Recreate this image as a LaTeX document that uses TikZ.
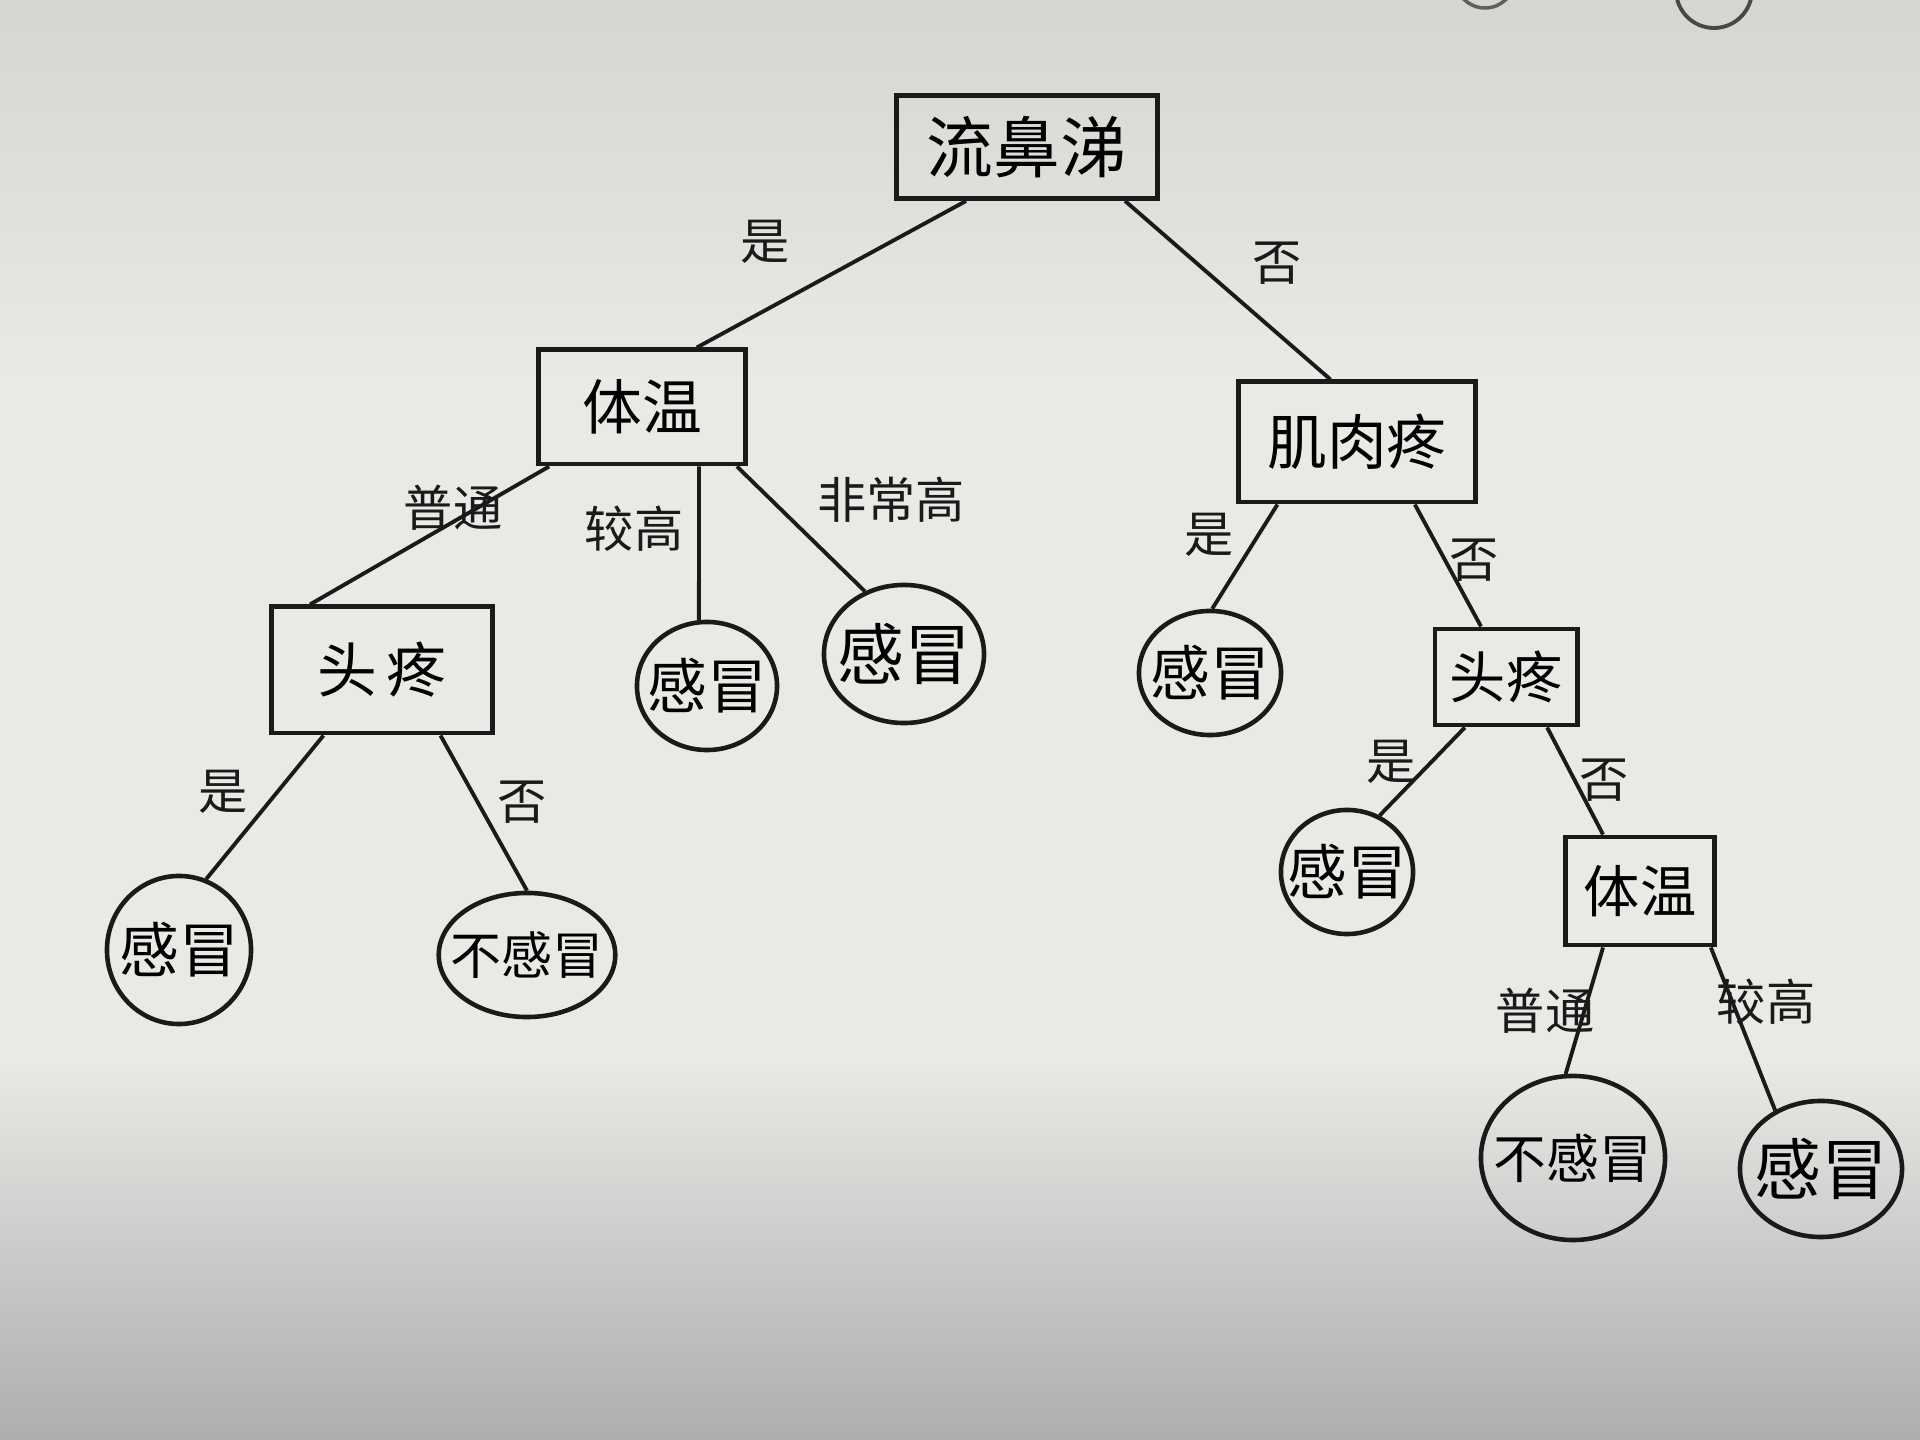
\documentclass[tikz,border=0pt]{standalone}
\usepackage{fontspec}
\newfontfamily\cjk{Noto Sans CJK SC}
\usetikzlibrary{calc, shapes.geometric}

\definecolor{papertop}{HTML}{D4D6D1}
\definecolor{papermid}{HTML}{E9E9E6}
\definecolor{paperbot}{HTML}{B0ADAD}
\definecolor{ink}{HTML}{1A1A1A}

\begin{document}
\begin{tikzpicture}[
        x=0.01cm, y=-0.01cm,
        box/.style={
            rectangle,
            draw=ink,
            line width=1.4pt,
            inner sep=0pt,
            font=\cjk\fontsize{17pt}{17pt}\selectfont
        },
        leaf/.style={
            ellipse,
            draw=ink,
            line width=1.3pt,
            inner sep=-4pt,
            font=\cjk\fontsize{17pt}{17pt}\selectfont
        },
        lbl/.style={
            font=\cjk\fontsize{14pt}{14pt}\selectfont,
            text=ink
        },
        branch/.style={
            draw=ink,
            line width=1.1pt
        }
    ]

    % Papier
    \useasboundingbox (0,0) rectangle (1920,1440);
    \fill[papermid] (0,0) rectangle (1920,1440);
    \fill[top color=papertop, bottom color=papermid] (0,0) rectangle (1920,380);
    \fill[top color=papermid, bottom color=paperbot] (0,1060) rectangle (1920,1440);
    \begin{scope}
        \clip (0,0) rectangle (1920,1440);
        \draw[ink!70, line width=1pt] (1485,-22) circle (30);
        \draw[ink!80, line width=1.1pt] (1714,-10) circle (38);
    \end{scope}

    % Noeuds internes
    \node[box, minimum width=2.60cm, minimum height=1.03cm, font=\cjk\fontsize{19pt}{19pt}\selectfont] (root) at (1027,147) {流鼻涕};
    \node[box, minimum width=2.06cm, minimum height=1.14cm] (tw) at (642,407) {体温};
    \node[box, minimum width=2.36cm, minimum height=1.20cm] (jr) at (1357,442) {肌肉疼};
    \node[box, minimum width=2.20cm, minimum height=1.26cm] (tL) at (382,670) {头\,疼};
    \node[box, minimum width=1.42cm, minimum height=0.96cm, font=\cjk\fontsize{16pt}{16pt}\selectfont] (tR) at (1506,677) {头疼};
    \node[box, minimum width=1.49cm, minimum height=1.08cm, font=\cjk\fontsize{16pt}{16pt}\selectfont] (twR) at (1640,891) {体温};

    % Feuilles
    \node[leaf, minimum width=1.40cm, minimum height=1.28cm] (g1) at (707,686) {感冒};
    \node[leaf, minimum width=1.60cm, minimum height=1.38cm, font=\cjk\fontsize{19pt}{19pt}\selectfont] (g2) at (904,654) {感冒};
    \node[leaf, minimum width=1.42cm, minimum height=1.24cm] (g3) at (1210,673) {感冒};
    \node[leaf, minimum width=1.44cm, minimum height=1.48cm] (gL) at (179,950) {感冒};
    \node[leaf, minimum width=1.74cm, minimum height=1.24cm, font=\cjk\fontsize{14.5pt}{14.5pt}\selectfont] (bL) at (527,955) {不感冒};
    \node[leaf, minimum width=1.32cm, minimum height=1.24cm] (g4) at (1347,872) {感冒};
    \node[leaf, minimum width=1.84cm, minimum height=1.64cm, font=\cjk\fontsize{15pt}{15pt}\selectfont] (bR) at (1573,1158) {不感冒};
    \node[leaf, minimum width=1.62cm, minimum height=1.36cm, font=\cjk\fontsize{19pt}{19pt}\selectfont] (gR) at (1821,1169) {感冒};

    % Branches
    \draw[branch] ($(root.south west)!0.27!(root.south east)$) -- ($(tw.north west)!0.76!(tw.north east)$);
    \draw[branch] ($(root.south west)!0.87!(root.south east)$) -- ($(jr.north west)!0.39!(jr.north east)$);
    \draw[branch] ($(tw.south west)!0.06!(tw.south east)$) -- ($(tL.north west)!0.18!(tL.north east)$);
    \draw[branch] ($(tw.south west)!0.77!(tw.south east)$) -- (g1.97);
    \draw[branch] ($(tw.south west)!0.95!(tw.south east)$) -- (g2.122);
    \draw[branch] ($(tL.south west)!0.24!(tL.south east)$) -- (gL.69);
    \draw[branch] ($(tL.south west)!0.76!(tL.south east)$) -- (bL.90);
    \draw[branch] ($(jr.south west)!0.17!(jr.south east)$) -- (g3.88);
    \draw[branch] ($(jr.south west)!0.74!(jr.south east)$) -- ($(tR.north west)!0.33!(tR.north east)$);
    \draw[branch] ($(tR.south west)!0.22!(tR.south east)$) -- (g4.60);
    \draw[branch] ($(tR.south west)!0.78!(tR.south east)$) -- ($(twR.north west)!0.26!(twR.north east)$);
    \draw[branch] ($(twR.south west)!0.26!(twR.south east)$) -- (bR.95);
    \draw[branch] ($(twR.south west)!0.96!(twR.south east)$) -- (gR.128);

    % Etiquettes des branches
    \node[lbl] (l1) at (765,242) {是};
    \node[lbl] (l2) at (1277,263) {否};
    \node[lbl] (l3) at (453,508) {普通};
    \node[lbl] (l4) at (634,529) {较高};
    \node[lbl] (l5) at (891,500) {非常高};
    \node[lbl] (l6) at (223,792) {是};
    \node[lbl] (l7) at (522,802) {否};
    \node[lbl] (l8) at (1209,535) {是};
    \node[lbl] (l9) at (1474,560) {否};
    \node[lbl] (l10) at (1391,762) {是};
    \node[lbl] (l11) at (1604,780) {否};
    \node[lbl] (l12) at (1545,1011) {普通};
    \node[lbl] (l13) at (1766,1002) {较高};

\end{tikzpicture}
\end{document}
